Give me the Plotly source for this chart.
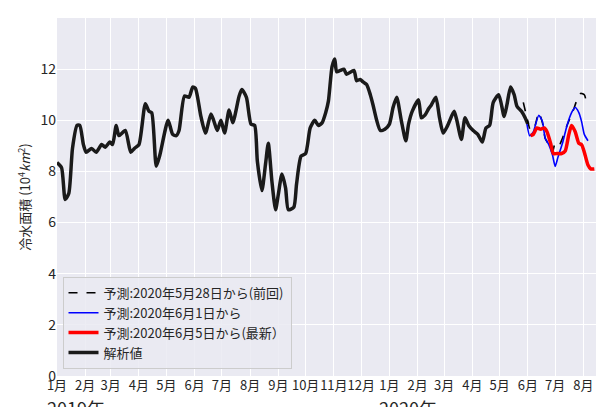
import plotly.graph_objects as go
import pandas as pd

ana_dates = ["2019-01-01","2019-01-06","2019-01-10","2019-01-14","2019-01-18","2019-01-23","2019-01-26","2019-01-30",
"2019-02-02","2019-02-08","2019-02-13","2019-02-19","2019-02-23","2019-02-28","2019-03-03","2019-03-07","2019-03-10",
"2019-03-17","2019-03-23","2019-03-27","2019-04-01","2019-04-08","2019-04-12","2019-04-15","2019-04-20","2019-04-24",
"2019-05-03","2019-05-08","2019-05-12","2019-05-15","2019-05-21","2019-05-26","2019-05-30","2019-06-02","2019-06-08",
"2019-06-13","2019-06-19","2019-06-22","2019-06-26","2019-06-30","2019-07-04","2019-07-09","2019-07-13","2019-07-20",
"2019-07-23","2019-07-28","2019-08-02","2019-08-06","2019-08-09","2019-08-14","2019-08-18","2019-08-21","2019-08-25",
"2019-08-29","2019-09-01","2019-09-05","2019-09-09","2019-09-12","2019-09-18","2019-09-21","2019-09-26","2019-10-01",
"2019-10-06","2019-10-11","2019-10-15","2019-10-19","2019-10-23","2019-10-26","2019-10-30","2019-11-02","2019-11-04",
"2019-11-08","2019-11-12","2019-11-15","2019-11-23","2019-11-26","2019-11-30","2019-12-03","2019-12-07","2019-12-11",
"2019-12-14","2019-12-18","2019-12-22","2019-12-27","2020-01-01","2020-01-05","2020-01-09","2020-01-14","2020-01-19",
"2020-01-22","2020-01-26","2020-02-02","2020-02-05","2020-02-09","2020-02-13","2020-02-16","2020-02-21","2020-02-25",
"2020-02-29","2020-03-05","2020-03-12","2020-03-15","2020-03-20","2020-03-24","2020-03-28","2020-04-02","2020-04-07",
"2020-04-12","2020-04-16","2020-04-20","2020-04-24","2020-04-30","2020-05-06","2020-05-09","2020-05-13","2020-05-17",
"2020-05-20","2020-05-25","2020-05-29","2020-06-01"]
ana_vals = [8.35,8.15,6.9,7.15,8.9,9.8,9.8,9.05,
8.75,8.9,8.75,9.05,8.95,9.15,9.05,9.8,9.4,
9.6,8.75,8.9,9.05,10.65,10.35,10.3,8.2,8.65,
10.0,9.45,9.4,9.6,10.95,10.9,11.3,11.25,10.15,
9.5,10.25,10.0,9.6,10.0,9.5,10.4,9.9,10.95,
11.2,10.9,9.85,9.8,8.4,7.25,8.3,9.1,7.6,
6.5,7.1,7.9,7.35,6.5,6.6,7.5,8.6,8.7,
9.7,10.0,9.8,9.9,10.3,10.75,12.1,12.4,11.9,
11.95,12.0,11.8,11.95,11.55,11.6,11.5,11.4,11.0,
10.6,10.0,9.6,9.65,9.85,10.5,10.9,10.0,9.2,
9.85,10.35,10.8,10.1,10.2,10.45,10.6,10.9,10.1,
9.5,9.8,10.35,10.0,9.25,10.1,9.8,9.6,9.45,
9.15,9.7,9.8,10.7,11.0,10.15,10.6,11.3,11.0,
10.55,10.35,10.1,9.85]

prev_dates = ["2020-05-27","2020-05-31","2020-06-04","2020-06-08","2020-06-13","2020-06-17","2020-06-20","2020-06-24",
"2020-06-28","2020-07-01","2020-07-05","2020-07-09","2020-07-14","2020-07-20","2020-07-25","2020-07-29","2020-08-02","2020-08-04"]
prev_vals = [10.7,10.1,9.6,9.7,10.3,9.9,9.3,9.05,8.75,9.1,9.0,9.3,9.8,10.3,10.8,11.05,11.0,10.75]

jun1_dates = ["2020-05-31","2020-06-03","2020-06-07","2020-06-13","2020-06-17","2020-06-20","2020-06-24","2020-06-28",
"2020-07-01","2020-07-04","2020-07-09","2020-07-14","2020-07-19","2020-07-23","2020-07-27","2020-07-30","2020-08-02","2020-08-06"]
jun1_vals = [9.85,9.4,9.55,10.2,9.95,9.3,9.05,8.65,8.2,8.55,9.1,9.8,10.3,10.5,10.3,9.95,9.45,9.2]

jun5_dates = ["2020-06-04","2020-06-07","2020-06-11","2020-06-15","2020-06-19","2020-06-22","2020-06-26","2020-06-29",
"2020-07-03","2020-07-08","2020-07-12","2020-07-16","2020-07-19","2020-07-23","2020-07-27","2020-07-30","2020-08-02",
"2020-08-06","2020-08-09","2020-08-13"]
jun5_vals = [9.4,9.45,9.7,9.65,9.7,9.55,9.1,8.7,8.7,8.7,8.8,9.45,9.8,9.55,9.1,9.05,8.75,8.25,8.1,8.1]

month_ticks = pd.date_range("2019-01-01", "2020-08-01", freq="MS")
month_labels = [f"{d.month}月" for d in month_ticks]
year_labels = ["2019年", "2020年"]
year_pos = ["2019-01-01", "2020-01-01"]

fig = go.Figure()
fig.add_trace(go.Scatter(x=ana_dates, y=ana_vals, mode="lines", name="解析値", legendrank=4,
                         line=dict(color="#1a1a1a", width=3.5, shape="spline", smoothing=0.6)))
fig.add_trace(go.Scatter(x=prev_dates, y=prev_vals, mode="lines", name="予測:2020年5月28日から(前回)", legendrank=1,
                         line=dict(color="black", width=1.6, dash="dash", shape="spline", smoothing=0.6)))
fig.add_trace(go.Scatter(x=jun1_dates, y=jun1_vals, mode="lines", name="予測:2020年6月1日から", legendrank=2,
                         line=dict(color="#0000ff", width=1.6, shape="spline", smoothing=0.6)))
fig.add_trace(go.Scatter(x=jun5_dates, y=jun5_vals, mode="lines", name="予測:2020年6月5日から(最新）", legendrank=3,
                         line=dict(color="#ff0000", width=3.5, shape="spline", smoothing=0.6)))

for t, p in zip(year_labels, year_pos):
    fig.add_annotation(x=p, y=0, xref="x", yref="paper", text=t, showarrow=False, yshift=-17,
                       xanchor="left", yanchor="top", xshift=-12, font=dict(size=18, color="#262626"))

fig.update_layout(
    width=604, height=407, margin=dict(l=49, r=4, t=10, b=39),
    paper_bgcolor="white", plot_bgcolor="#EAEAF2",
    font=dict(family="Noto Sans CJK JP", size=13, color="#262626"),
    showlegend=True,
    legend=dict(x=0.01, y=0.02, xanchor="left", yanchor="bottom", bgcolor="rgba(234,234,242,0.85)",
                bordercolor="#cccccc", borderwidth=1, font=dict(size=13)),
    xaxis=dict(range=["2019-01-01", "2020-08-28"], tickvals=month_ticks, ticktext=month_labels,
               tickangle=0, showgrid=True, gridcolor="white", gridwidth=1, zeroline=False,
               tickfont=dict(size=13), ticks="", automargin=False),
    yaxis=dict(range=[0, 14.001], tickvals=[0, 2, 4, 6, 8, 10, 12, 14], showgrid=True, gridcolor="white",
               zeroline=False, tickfont=dict(size=14), ticks="", automargin=False,
               title=dict(text="冷水面積 (10<sup>4</sup><i>km</i><sup>2</sup>)", font=dict(size=13), standoff=6)),
)
fig.write_html("out.html")
